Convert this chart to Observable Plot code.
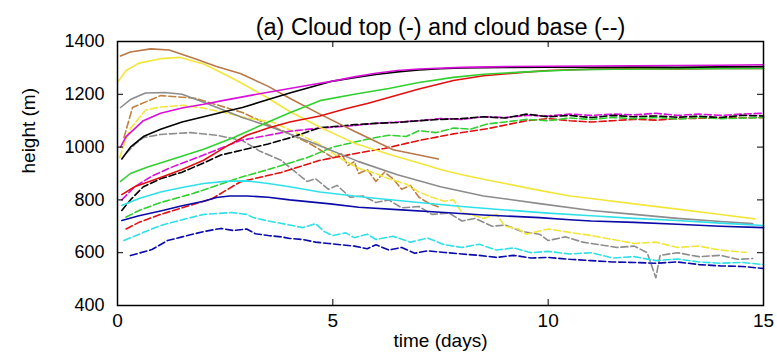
<!DOCTYPE html>
<html>
<head>
<meta charset="utf-8">
<script src="https://cdn.jsdelivr.net/npm/d3@7"></script>
<script src="https://cdn.jsdelivr.net/npm/@observablehq/plot@0.6"></script>
<style>
  html, body { margin: 0; padding: 0; background: #fff; }
</style>
</head>
<body>
<div id="chart"></div>
<script>
// ---- Data ----
const titleText = "(a) Cloud top (-) and cloud base (--)";
const xLabel = "time (days)";
const yLabel = "height (m)";
const xTicks = [0, 5, 10, 15];
const yTicks = [400, 600, 800, 1000, 1200, 1400];

// cloud tops (solid)
const blackTop = [[0.1,955],[0.3,1000],[0.6,1040],[1,1068],[1.5,1095],[2,1115],[2.5,1135],[2.9,1150],[3.5,1180],[4,1205],[4.5,1228],[5,1250],[5.5,1263],[6,1275],[6.5,1285],[7,1292],[7.5,1297],[8,1300],[9,1302],[10,1303],[11,1302],[12,1303],[13,1302],[14,1304],[15,1305]];
const magentaTop = [[0.07,1000],[0.2,1040],[0.6,1100],[1,1128],[1.5,1148],[2,1162],[2.5,1178],[3,1193],[3.5,1208],[4,1222],[4.5,1236],[5,1250],[5.5,1266],[6,1280],[6.5,1290],[7,1296],[8,1302],[9,1305],[10,1306],[12,1308],[13,1309],[14,1310],[15,1312]];
const greenTop = [[0.07,870],[0.3,900],[0.7,925],[1.2,950],[2,992],[2.7,1036],[3.5,1095],[4,1130],[4.7,1176],[5.5,1200],[6.3,1222],[7,1245],[7.8,1264],[8.5,1276],[9.5,1285],[10.5,1292],[11.5,1295],[12.5,1296],[13.5,1297],[15,1298]];
const redTop = [[0.1,820],[0.4,850],[1,885],[1.5,915],[2,950],[2.5,1000],[3,1045],[3.5,1072],[4,1095],[4.7,1118],[5.3,1145],[5.8,1165],[6.3,1188],[7,1220],[7.8,1252],[8.5,1270],[9.4,1283],[10,1290],[11,1295],[12,1297],[13,1296],[14,1298],[15,1298]];
const cyanTop = [[0.1,779],[0.5,805],[1,830],[1.5,847],[2,862],[2.5,870],[3,872],[3.5,862],[4,850],[4.7,830],[5.8,809],[7,790],[8,775],[9,762],[10,750],[11,740],[12,730],[13,722],[14,712],[15,703]];
const blueTop = [[0.1,722],[0.5,740],[1.05,760],[1.5,778],[2,795],[2.3,809],[2.6,815],[3,815],[3.5,810],[4,800],[4.94,785],[5.6,772],[6.5,763],[7.5,753],[8.5,743],[9.8,733],[10.5,725],[11,720],[12,715],[13,708],[14,700],[15,695]];
const yellowTop = [[0.02,1250],[0.2,1290],[0.5,1318],[1,1335],[1.44,1340],[2,1315],[2.5,1275],[2.9,1241],[3.5,1185],[4,1135],[4.7,1075],[5.5,1015],[6.4,968],[7,940],[7.5,915],[8,895],[8.5,878],[9,862],[9.8,836],[10.5,815],[11,805],[12,785],[13,765],[14,745],[14.8,728]];
const grayTop = [[0.07,1150],[0.3,1180],[0.65,1205],[1.1,1207],[1.5,1200],[2,1170],[2.9,1112],[3.5,1080],[4,1050],[4.7,1005],[5.6,945],[6.5,895],[7.5,850],[8.5,815],[9.8,786],[11,760],[12,745],[13,730],[14,718],[14.75,710]];
const brownTop = [[0.07,1345],[0.3,1360],[0.77,1372],[1.2,1368],[1.8,1335],[2.3,1305],[2.85,1279],[3.5,1230],[4,1185],[4.7,1125],[5.5,1060],[6.4,990],[7,970],[7.45,955]];

// cloud bases (dashed)
const blackBase = [[0.1,760],[0.3,800],[0.6,850],[1,880],[1.5,905],[2,940],[2.4,970],[2.85,987],[3.5,1012],[4,1035],[4.7,1074],[5.2,1080],[5.5,1085],[6,1090],[6.5,1093],[7,1100],[7.5,1105],[8,1108],[8.5,1115],[9,1110],[9.5,1125],[10,1115],[10.5,1120],[11,1112],[11.5,1120],[12,1115],[12.5,1118],[13,1113],[13.5,1117],[14,1112],[14.5,1120],[15,1118]];
const magentaBase = [[0.1,800],[0.4,850],[0.8,890],[1.2,920],[2,970],[2.85,1025],[3.5,1045],[4,1060],[4.7,1072],[5.5,1082],[6,1090],[6.5,1095],[7,1100],[7.5,1108],[8,1105],[8.5,1115],[9,1112],[9.5,1120],[10,1118],[10.5,1125],[11,1120],[11.5,1125],[12,1122],[12.5,1128],[13,1120],[13.5,1125],[14,1120],[14.5,1125],[15,1128]];
const greenBase = [[0.2,735],[0.5,760],[1,790],[1.75,824],[2.85,885],[3.5,915],[4.4,960],[5,1000],[5.8,1030],[6.3,1045],[6.7,1040],[7,1062],[7.4,1055],[7.8,1072],[8.2,1068],[8.6,1088],[9,1095],[9.5,1105],[10,1100],[10.5,1110],[11,1105],[11.5,1112],[12,1108],[12.5,1112],[13,1106],[13.5,1112],[14,1108],[15,1112]];
const redBase = [[0.2,690],[0.5,715],[1,745],[1.6,775],[2.2,805],[2.85,868],[3.8,904],[4.7,950],[5.5,975],[6.2,995],[7,1025],[7.8,1050],[8.6,1070],[9.5,1100],[10,1108],[10.5,1100],[11,1095],[11.5,1100],[12,1105],[12.5,1102],[13,1108],[14,1110],[15,1112]];
const cyanBase = [[0.15,646],[0.5,670],[1,703],[1.5,725],[2,745],[2.65,752],[3,745],[3.15,733],[3.5,720],[4,705],[4.3,695],[4.6,710],[4.8,680],[5,665],[5.3,675],[5.5,657],[5.8,670],[6,650],[6.4,662],[6.8,640],[7.2,655],[7.6,630],[8,620],[8.4,632],[8.8,610],[9.2,618],[9.6,600],[10,605],[10.5,595],[11,600],[11.5,580],[12,585],[12.5,570],[13,576],[13.5,565],[14,560],[14.5,563],[15,555]];
const blueBase = [[0.3,589],[0.8,612],[1.16,646],[1.5,660],[2,680],[2.4,692],[2.7,684],[3,690],[3.2,672],[3.5,665],[3.8,660],[4,654],[4.3,650],[4.6,640],[4.9,635],[5.2,630],[5.5,625],[5.8,615],[6,630],[6.3,610],[6.6,620],[6.9,598],[7.2,607],[7.6,601],[8,595],[8.4,590],[8.8,582],[9.2,590],[9.6,580],[10,582],[10.5,575],[11,570],[11.5,565],[12,563],[12.5,560],[13,565],[13.5,555],[14,550],[14.5,548],[15,540]];
const yellowBase = [[0.05,960],[0.15,1010],[0.3,1070],[0.65,1140],[1,1152],[1.5,1158],[2,1148],[2.5,1130],[3,1110],[3.6,1095],[4.2,1050],[4.7,1010],[5.2,955],[5.6,920],[6,900],[6.3,880],[6.7,860],[7,830],[7.3,810],[7.6,795],[7.8,800],[8,752],[8.3,740],[8.5,730],[8.8,745],[9,700],[9.3,690],[9.5,670],[10,690],[10.5,677],[11,665],[11.5,650],[12,635],[12.5,640],[13,620],[13.5,625],[14,610],[14.6,601]];
const grayBase = [[0.2,976],[0.4,1010],[0.6,1036],[1,1048],[1.7,1055],[2.3,1045],[2.9,1025],[3.3,985],[3.8,950],[4.4,870],[4.6,880],[4.9,840],[5.1,855],[5.4,810],[5.7,815],[6,790],[6.3,800],[6.6,770],[7,775],[7.3,745],[7.7,750],[8,720],[8.3,730],[8.7,700],[9,705],[9.4,680],[9.8,670],[10,646],[10.4,660],[10.8,640],[11.2,630],[11.6,620],[12,625],[12.3,600],[12.5,505],[12.6,590],[13,600],[13.5,585],[14,590],[14.4,575],[14.75,578]];
const brownBase = [[0.15,1036],[0.35,1150],[1,1195],[1.8,1185],[2.9,1131],[3.5,1085],[4,1050],[4.5,1010],[5,960],[5.2,975],[5.35,930],[5.5,945],[5.6,900],[5.8,915],[6,870],[6.2,905],[6.4,880],[6.6,840],[6.8,855],[7,810],[7.2,790],[7.5,770]];

// ---- Series table ----
const series = [
  {name: "brownBase", pts: brownBase, color: "#c08040", dash: true},
  {name: "grayBase", pts: grayBase, color: "#8c8c8c", dash: true},
  {name: "yellowBase", pts: yellowBase, color: "#f2e63a", dash: true},
  {name: "cyanBase", pts: cyanBase, color: "#30e0e8", dash: true},
  {name: "blueBase", pts: blueBase, color: "#0a0aa8", dash: true},
  {name: "redBase", pts: redBase, color: "#e01010", dash: true},
  {name: "greenBase", pts: greenBase, color: "#30d030", dash: true},
  {name: "magentaBase", pts: magentaBase, color: "#d810d8", dash: true},
  {name: "blackBase", pts: blackBase, color: "#000000", dash: true},
  {name: "grayTop", pts: grayTop, color: "#8c8c8c", dash: false},
  {name: "yellowTop", pts: yellowTop, color: "#f2e63a", dash: false},
  {name: "brownTop", pts: brownTop, color: "#b87848", dash: false},
  {name: "cyanTop", pts: cyanTop, color: "#30e0e8", dash: false},
  {name: "blueTop", pts: blueTop, color: "#0a0aa8", dash: false},
  {name: "redTop", pts: redTop, color: "#e01010", dash: false},
  {name: "greenTop", pts: greenTop, color: "#30d030", dash: false},
  {name: "blackTop", pts: blackTop, color: "#000000", dash: false},
  {name: "magentaTop", pts: magentaTop, color: "#d810d8", dash: false}
];

const W = 777, H = 357;
const mL = 117, mR = 14, mT = 41, mB = 52;
const innerW = W - mL - mR, innerH = H - mT - mB;
const tickLen = 6;

const lineMarks = series.map(s => Plot.line(s.pts, {
  x: d => d[0], y: d => d[1],
  stroke: s.color, strokeWidth: 1.6,
  strokeDasharray: s.dash ? "7,3" : null,
  curve: "linear"
}));

const chart = Plot.plot({
  width: W, height: H,
  marginLeft: mL, marginRight: mR, marginTop: mT, marginBottom: mB,
  style: {fontFamily: "'Liberation Sans', Arial, sans-serif", background: "#fff", color: "#000"},
  x: {domain: [0, 15]},
  y: {domain: [400, 1400]},
  marks: [
    ...lineMarks,
    Plot.frame({stroke: "#000", strokeWidth: 1.5}),
    // inward ticks, MATLAB style
    Plot.tickY(yTicks, {y: d => d, insetRight: innerW - tickLen, stroke: "#000"}),
    Plot.tickY(yTicks, {y: d => d, insetLeft: innerW - tickLen, stroke: "#000"}),
    Plot.tickX(xTicks, {x: d => d, insetBottom: innerH - tickLen, stroke: "#000"}),
    Plot.tickX(xTicks, {x: d => d, insetTop: innerH - tickLen, stroke: "#000"}),
    Plot.axisX({ticks: xTicks, tickSize: 0, tickPadding: 8, fontSize: 19, label: null, tickFormat: d => String(d)}),
    Plot.axisY({ticks: yTicks, tickSize: 0, tickPadding: 13, fontSize: 18, label: null, tickFormat: d => String(d)}),
    Plot.text([titleText], {frameAnchor: "top", dy: -23, fontSize: 23.5, fill: "#000"}),
    Plot.text([xLabel], {frameAnchor: "bottom", dy: 41, fontSize: 19, fill: "#000"}),
    Plot.text([yLabel], {frameAnchor: "left", dx: -89, rotate: -90, fontSize: 19, fill: "#000"})
  ]
});
document.getElementById("chart").appendChild(chart);
</script>
</body>
</html>
